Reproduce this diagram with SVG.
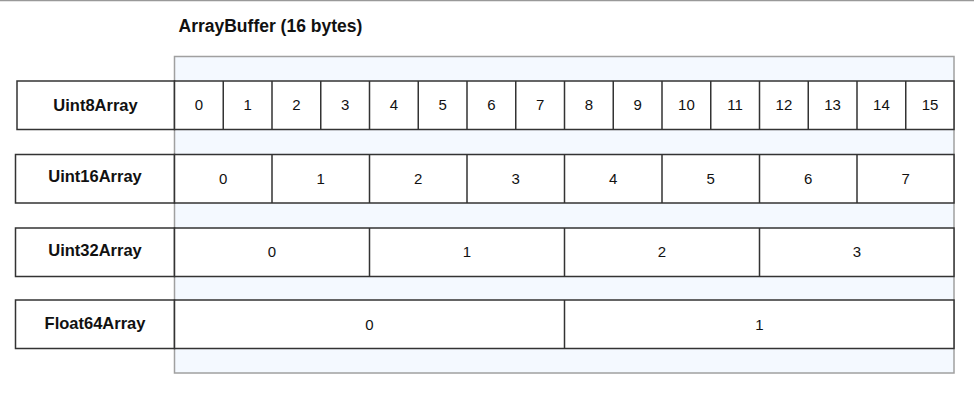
<svg xmlns="http://www.w3.org/2000/svg" width="974" height="401" viewBox="0 0 974 401">
<style>
.bg{fill:#f4f9ff;stroke:#a0a0a0;stroke-width:1.5}
.box{fill:#fff;stroke:#333;stroke-width:1.5}
.lbl{font-family:"Liberation Sans",Arial,sans-serif;font-weight:bold;font-size:16.5px;fill:#111;text-anchor:middle}
.num{font-family:"Liberation Sans",Arial,sans-serif;font-size:15px;fill:#111;text-anchor:middle}
.title{font-family:"Liberation Sans",Arial,sans-serif;font-weight:bold;font-size:17.5px;fill:#111}
</style>
<rect x="0" y="0" width="974" height="401" fill="#fff"/>
<line x1="0" y1="0.5" x2="974" y2="0.5" stroke="#999" stroke-width="1.5"/>
<text class="title" x="178.5" y="32">ArrayBuffer (16 bytes)</text>
<g id="arraybuffer"><rect class="bg" x="174.5" y="56.5" width="779.5" height="316.5"/></g>
<g id="uint8">
<rect class="box" x="17" y="81" width="157.5" height="48.5"/>
<text class="lbl" x="95.5" y="110.5">Uint8Array</text>
<rect class="box" x="174.5" y="81" width="779.5" height="48.5"/>
<path d="M223.25 81V129.5M272 81V129.5M320.75 81V129.5M369.5 81V129.5M418.25 81V129.5M467 81V129.5M515.75 81V129.5M564.5 81V129.5M613.25 81V129.5M662 81V129.5M710.75 81V129.5M759.5 81V129.5M808.25 81V129.5M857 81V129.5M905.75 81V129.5" stroke="#333" stroke-width="1.5"/>
<text class="num" y="110"><tspan x="198.9">0</tspan><tspan x="247.6">1</tspan><tspan x="296.4">2</tspan><tspan x="345.1">3</tspan><tspan x="393.9">4</tspan><tspan x="442.6">5</tspan><tspan x="491.4">6</tspan><tspan x="540.1">7</tspan><tspan x="588.9">8</tspan><tspan x="637.6">9</tspan><tspan x="686.4">10</tspan><tspan x="735.1">11</tspan><tspan x="783.9">12</tspan><tspan x="832.6">13</tspan><tspan x="881.4">14</tspan><tspan x="930.1">15</tspan></text>
</g>
<g id="uint16">
<rect class="box" x="15.5" y="154.5" width="159" height="48.5"/>
<text class="lbl" x="95" y="182">Uint16Array</text>
<rect class="box" x="174.5" y="154.5" width="779.5" height="48.5"/>
<path d="M272 154.5V203M369.5 154.5V203M467 154.5V203M564.5 154.5V203M662 154.5V203M759.5 154.5V203M857 154.5V203" stroke="#333" stroke-width="1.5"/>
<text class="num" y="183.5"><tspan x="223.25">0</tspan><tspan x="320.75">1</tspan><tspan x="418.25">2</tspan><tspan x="515.75">3</tspan><tspan x="613.25">4</tspan><tspan x="710.75">5</tspan><tspan x="808.25">6</tspan><tspan x="905.75">7</tspan></text>
</g>
<g id="uint32">
<rect class="box" x="15.5" y="228" width="159" height="48.5"/>
<text class="lbl" x="95" y="255.5">Uint32Array</text>
<rect class="box" x="174.5" y="228" width="779.5" height="48.5"/>
<path d="M369.5 228V276.5M564.5 228V276.5M759.5 228V276.5" stroke="#333" stroke-width="1.5"/>
<text class="num" y="257"><tspan x="272">0</tspan><tspan x="467">1</tspan><tspan x="662">2</tspan><tspan x="857">3</tspan></text>
</g>
<g id="float64">
<rect class="box" x="15.5" y="300" width="159" height="48.5"/>
<text class="lbl" x="95" y="329">Float64Array</text>
<rect class="box" x="174.5" y="300" width="779.5" height="48.5"/>
<path d="M564.5 300V348.5" stroke="#333" stroke-width="1.5"/>
<text class="num" y="329.5"><tspan x="369.5">0</tspan><tspan x="759.5">1</tspan></text>
</g>
<g id="connectors"/>
</svg>
